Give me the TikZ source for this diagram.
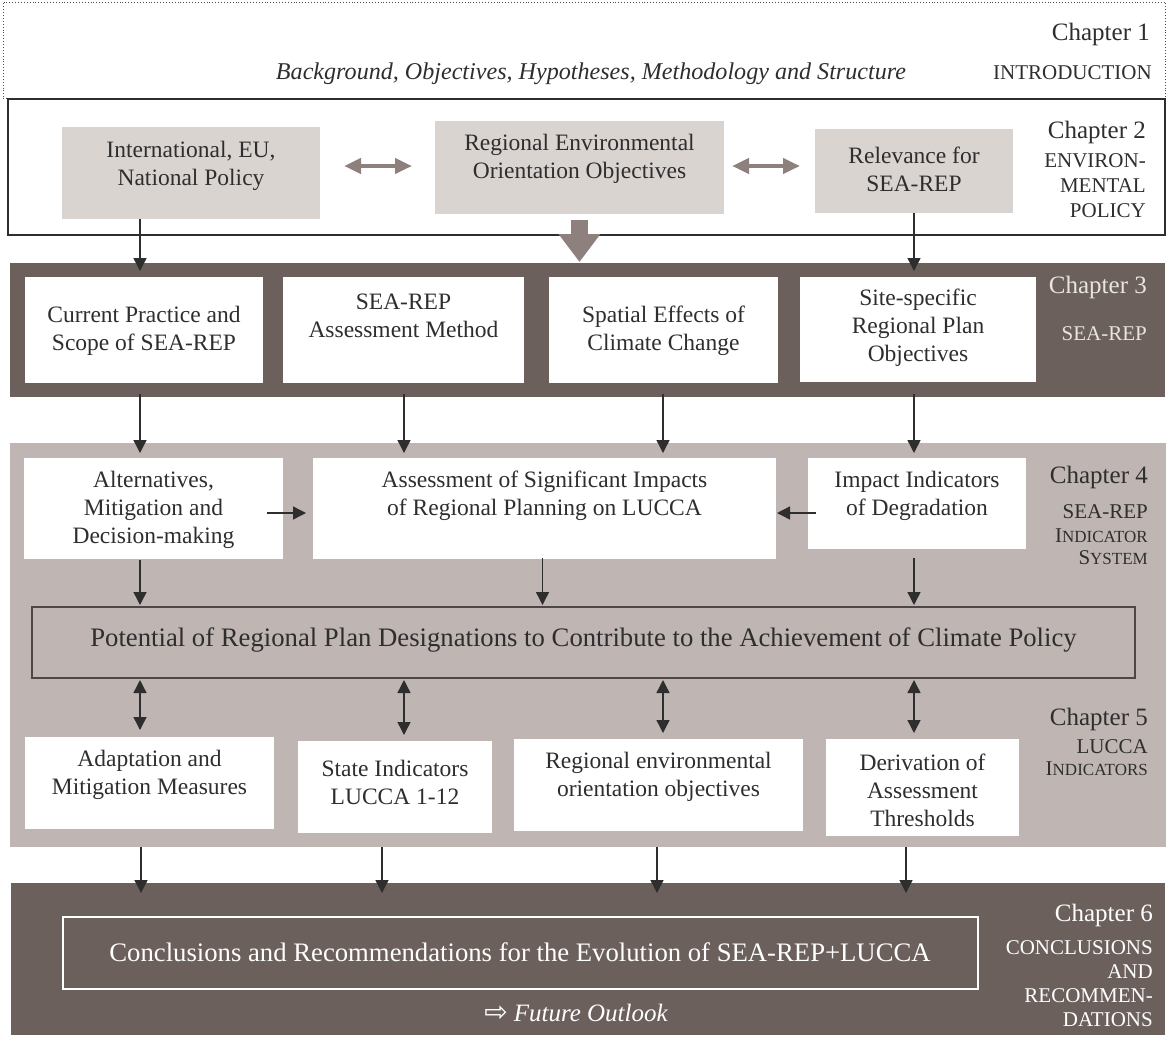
\documentclass[tikz,border=0pt]{standalone}
\usepackage{fontspec}
\setmainfont{Liberation Serif}
\newfontfamily\symfnt{DejaVu Sans}
\usetikzlibrary{arrows.meta}
\definecolor{darkband}{HTML}{6C605C}
\definecolor{lightband}{HTML}{BFB5B2}
\definecolor{policybox}{HTML}{DAD4D1}
\definecolor{garrow}{HTML}{8E817D}
\definecolor{ink}{HTML}{2E2E2E}
\definecolor{potline}{HTML}{4F4746}
\definecolor{chlight}{HTML}{E8E4E2}
\newcommand\bxf{\fontsize{23.5}{28}\selectfont}
\newcommand\bigf{\fontsize{26.7}{30}\selectfont}
\newcommand\chapf{\fontsize{25}{30}\selectfont}
\newcommand\subf{\fontsize{21}{24}\selectfont}
\newcommand\scf{\fontsize{17}{24}\selectfont}
\begin{document}
\begin{tikzpicture}[x=1pt,y=-1pt,
  rect/.style={inner sep=0pt, outer sep=0pt, anchor=north west},
  txt/.style={text=ink, align=center, font=\bxf, inner sep=0pt},
  chap/.style={text=ink, font=\chapf, inner sep=0pt, anchor=base east},
  sub/.style={text=ink, font=\subf, inner sep=0pt, anchor=base east},
  conn/.style={draw=ink, line width=1.4pt, -{Triangle[length=13pt,width=13pt]}},
  dconn/.style={draw=ink, line width=1.4pt, {Triangle[length=13pt,width=13pt]}-{Triangle[length=13pt,width=13pt]}},
  garr/.style={draw=garrow, line width=4.5pt, {Triangle[length=17pt,width=15pt]}-{Triangle[length=17pt,width=15pt]}},
  blockarr/.style={draw=garrow, line width=17pt, -{Triangle[length=28pt,width=40pt]}}
]
\useasboundingbox (0,0) rectangle (1169,1039);
% column coordinates
\coordinate (c1) at (140,0);
\coordinate (c2) at (404,0);
\coordinate (c3) at (663,0);
\coordinate (c4) at (914,0);
\coordinate (d1) at (141,0);
\coordinate (d2) at (382,0);
\coordinate (d3) at (657,0);
\coordinate (d4) at (906,0);

% ---------- bands ----------
\node[rect, fill=darkband, minimum width=1155pt, minimum height=134pt] (b3) at (10,263) {};
\node[rect, fill=lightband, minimum width=1156pt, minimum height=404pt] (b45) at (10,443) {};
\node[rect, fill=darkband, minimum width=1154pt, minimum height=152pt] (b6) at (11,883) {};

% ---------- Chapter 1 ----------
\node[rect, draw=ink!85, dotted, line width=0.9pt, minimum width=1162pt, minimum height=96pt] (ch1) at (3,2) {};
\node[chap] (ch1a) at (1150,40) {Chapter 1};
\node[sub] (ch1b) at (1152,79) {INTRODUCTION};
\node[text=ink, font=\fontsize{24.1}{28}\selectfont\itshape, inner sep=0pt, anchor=base] (ch1c) at (591,79.5) {Background, Objectives, Hypotheses, Methodology and Structure};

% ---------- Chapter 2 ----------
\node[rect, draw=ink, line width=1.3pt, minimum width=1157pt, minimum height=136pt] (ch2) at (8,99) {};
\node[rect, fill=policybox, minimum width=258pt, minimum height=92pt] (pa) at (62,127) {};
\node[rect, fill=policybox, minimum width=289pt, minimum height=93pt] (pb) at (435,121) {};
\node[rect, fill=policybox, minimum width=198pt, minimum height=84pt] (pc) at (815,129) {};
\node[txt] (pat) at (191,166) {International, EU,\\National Policy};
\node[txt] (pbt) at (579.5,159) {Regional Environmental\\Orientation Objectives};
\node[txt] (pct) at (914,169) {Relevance for\\SEA-REP};
\draw[garr] ([xshift=24pt]pa.east |- 0,166) -- ([xshift=-23pt]pb.west |- 0,166);
\draw[garr] ([xshift=8pt]pb.east |- 0,166) -- ([xshift=-15pt]pc.west |- 0,166);
\node[chap] (ch2a) at (1146,138) {Chapter 2};
\node[sub] (ch2b) at (1146,167) {ENVIRON-};
\node[sub] (ch2c) at (1146,192.5) {MENTAL};
\node[sub] (ch2d) at (1146,217) {POLICY};

% ---------- Chapter 3 ----------
\node[rect, fill=white, minimum width=238pt, minimum height=106pt] (cp) at (25,277) {};
\node[rect, fill=white, minimum width=241pt, minimum height=106pt] (am) at (283,277) {};
\node[rect, fill=white, minimum width=229pt, minimum height=106pt] (se) at (549,277) {};
\node[rect, fill=white, minimum width=236pt, minimum height=105pt] (ss) at (800,277) {};
\node[txt] (cpt) at (144,331) {Current Practice and\\Scope of SEA-REP};
\node[txt] (amt) at (403.5,316) {SEA-REP\\Assessment Method};
\node[txt] (set) at (663.5,331) {Spatial Effects of\\Climate Change};
\node[txt] (sst) at (918,328) {Site-specific\\Regional Plan\\Objectives};
\node[chap, text=chlight] (ch3a) at (1147,293) {Chapter 3};
\node[sub, text=chlight] (ch3b) at (1147,340) {SEA-REP};

% arrows chapter 2 -> chapter 3
\draw[conn, shorten >=-8pt] (pa.south -| c1) -- (c1 |- b3.north);
\draw[conn, shorten >=-8pt] (pc.south) -- (pc.south |- b3.north);
\draw[blockarr, shorten <=6pt, shorten >=1pt] (pb.south) -- (pb.south |- b3.north);

% ---------- Chapter 4 ----------
\node[rect, fill=white, minimum width=259pt, minimum height=101pt] (alt) at (24,458) {};
\node[rect, fill=white, minimum width=463pt, minimum height=101pt] (asi) at (313,458) {};
\node[rect, fill=white, minimum width=218pt, minimum height=91pt] (imp) at (808,458) {};
\node[txt] (altt) at (153.5,510) {Alternatives,\\Mitigation and\\Decision-making};
\node[txt] (asit) at (544.5,496) {Assessment of Significant Impacts\\of Regional Planning on LUCCA};
\node[txt] (impt) at (917,496) {Impact Indicators\\of Degradation};
\node[rect, draw=potline, line width=2pt, minimum width=1103pt, minimum height=71pt] (pot) at (32,607) {};
\node[txt, font=\bigf] (pott) at (583.5,640) {Potential of Regional Plan Designations to Contribute to the Achievement of Climate Policy};
\node[chap] (ch4a) at (1148,483) {Chapter 4};
\node[sub] (ch4b) at (1148,518) {SEA-REP};
\node[sub] (ch4c) at (1148,542) {I{\scf NDICATOR}};
\node[sub] (ch4d) at (1148,564) {S{\scf YSTEM}};

% arrows chapter 3 -> chapter 4
\draw[conn, shorten <=-3pt, shorten >=5pt] (c1 |- b3.south) -- (c1 |- alt.north);
\draw[conn, shorten <=-3pt, shorten >=5pt] (c2 |- b3.south) -- (c2 |- asi.north);
\draw[conn, shorten <=-3pt, shorten >=5pt] (c3 |- b3.south) -- (c3 |- asi.north);
\draw[conn, shorten <=-3pt, shorten >=5pt] (c4 |- b3.south) -- (c4 |- imp.north);
% horizontal arrows
\draw[conn] ([xshift=-16pt,yshift=-4.5pt]alt.east) -- ([xshift=-7pt,yshift=-4.5pt]alt.east -| asi.west);
\draw[conn] ([xshift=8pt,yshift=-9.5pt]imp.west) -- ([xshift=1pt,yshift=-9.5pt]imp.west -| asi.east);
% arrows chapter 4 -> potential
\draw[conn, shorten <=1pt, shorten >=2pt] (c1 |- alt.south) -- (c1 |- pot.north);
\draw[conn, shorten <=-1pt, shorten >=2pt] ([xshift=-2pt]asi.south) -- ([xshift=-2pt]asi.south |- pot.north);
\draw[conn, shorten <=9pt, shorten >=2pt] (c4 |- imp.south) -- (c4 |- pot.north);

% ---------- Chapter 5 ----------
\node[rect, fill=white, minimum width=249pt, minimum height=92pt] (ada) at (25,737) {};
\node[rect, fill=white, minimum width=194pt, minimum height=92pt] (sti) at (298,741) {};
\node[rect, fill=white, minimum width=289pt, minimum height=92pt] (reo) at (514,739) {};
\node[rect, fill=white, minimum width=193pt, minimum height=97pt] (der) at (826,739) {};
\node[txt] (adat) at (149.5,775) {Adaptation and\\Mitigation Measures};
\node[txt] (stit) at (395,782) {State Indicators\\LUCCA 1-12};
\node[txt] (reot) at (658.5,777) {Regional environmental\\orientation objectives};
\node[txt] (dert) at (922.5,790) {Derivation of\\Assessment\\Thresholds};
\node[chap] (ch5a) at (1148,725) {Chapter 5};
\node[sub] (ch5b) at (1148,753) {LUCCA};
\node[sub] (ch5c) at (1148,775) {I{\scf NDICATORS}};

\draw[dconn, shorten <=2pt, shorten >=7pt] (c1 |- pot.south) -- (c1 |- ada.north);
\draw[dconn, shorten <=2pt, shorten >=6pt] (c2 |- pot.south) -- (c2 |- sti.north);
\draw[dconn, shorten <=2pt, shorten >=6pt] (c3 |- pot.south) -- (c3 |- reo.north);
\draw[dconn, shorten <=2pt, shorten >=6pt] (c4 |- pot.south) -- (c4 |- der.north);

% arrows chapter 5 -> chapter 6
\draw[conn, shorten >=-10pt] (d1 |- b45.south) -- (d1 |- b6.north);
\draw[conn, shorten >=-10pt] (d2 |- b45.south) -- (d2 |- b6.north);
\draw[conn, shorten >=-10pt] (d3 |- b45.south) -- (d3 |- b6.north);
\draw[conn, shorten >=-10pt] (d4 |- b45.south) -- (d4 |- b6.north);

% ---------- Chapter 6 ----------
\node[rect, draw=white, line width=2pt, minimum width=915pt, minimum height=72pt] (con) at (63,917) {};
\node[txt, text=white, font=\bigf] (cont) at (520,952) {Conclusions and Recommendations for the Evolution of SEA-REP+LUCCA};
\node[txt, text=white] (fut) at (576,1013) {{\symfnt\fontsize{28}{28}\selectfont ⇨}\hspace{6pt}{\fontsize{25}{28}\selectfont\itshape Future Outlook}};
\node[chap, text=white] (ch6a) at (1153,921) {Chapter 6};
\node[sub, text=white] (ch6b) at (1153,954) {CONCLUSIONS};
\node[sub, text=white] (ch6c) at (1153,978) {AND};
\node[sub, text=white] (ch6d) at (1153,1002) {RECOMMEN-};
\node[sub, text=white] (ch6e) at (1153,1026) {DATIONS};
\end{tikzpicture}
\end{document}
